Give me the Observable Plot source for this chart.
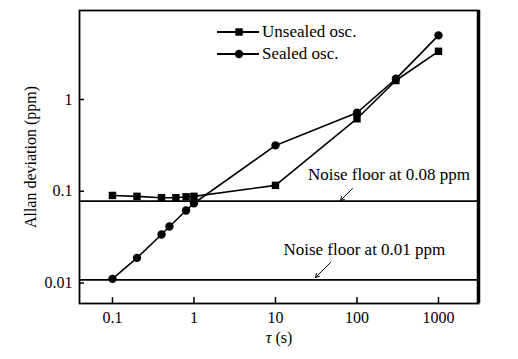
<!DOCTYPE html>
<html><head><meta charset="utf-8">
<script src="https://cdn.jsdelivr.net/npm/d3@7"></script>
<script src="https://cdn.jsdelivr.net/npm/@observablehq/plot@0.6"></script>
<style>
body{margin:0;background:#fff;}
#wrap{position:relative;width:518px;height:359px;}
.lg{position:absolute;font-family:"Liberation Serif","Times New Roman",serif;font-size:17px;line-height:17px;color:#000;white-space:nowrap;}
.lgsym{position:absolute;}
</style></head><body><div id="wrap"></div>
<script>
// Data
const tauUnsealed = [0.1, 0.2, 0.4, 0.6, 0.8, 1, 10, 100, 300, 1000];
const adevUnsealed = [0.090, 0.088, 0.085, 0.085, 0.087, 0.088, 0.116, 0.617, 1.61, 3.35];
const tauSealed = [0.1, 0.2, 0.4, 0.5, 0.8, 1, 10, 100, 300, 1000];
const adevSealed = [0.0111, 0.0188, 0.0338, 0.0413, 0.0617, 0.074, 0.316, 0.717, 1.68, 5.0];
const seriesNames = ["Unsealed osc.", "Sealed osc."];
const seriesSymbols = ["square", "circle"];
const noiseFloorValues = [0.078, 0.0108];
const noiseFloorLabels = ["Noise floor at 0.08 ppm", "Noise floor at 0.01 ppm"];
// annotation anchors (data coords): label start, arrow tail, arrow head
const noiseLabelTau = [25, 12.5];
const noiseLabelAdev = [0.152, 0.0232];
const arrowTau1 = [88, 47.3];
const arrowAdev1 = [0.107, 0.0167];
const arrowTau2 = [62.8, 31];
const arrowAdev2 = [0.0793, 0.0115];
const xTicks = [0.1, 1, 10, 100, 1000];
const yTicks = [0.01, 0.1, 1];
const xDomain = [0.0394, 3097];
const yDomain = [0.00598, 9.33];

const unsealed = tauUnsealed.map((t, i) => ({tau: t, adev: adevUnsealed[i]}));
const sealed = tauSealed.map((t, i) => ({tau: t, adev: adevSealed[i]}));
const floors = noiseFloorValues.map((v, i) => ({v, label: noiseFloorLabels[i], lx: noiseLabelTau[i], ly: noiseLabelAdev[i],
  x1: arrowTau1[i], y1: arrowAdev1[i], x2: arrowTau2[i], y2: arrowAdev2[i]}));

const font = "'Liberation Serif','Times New Roman',serif";
const plot = Plot.plot({
  width: 518, height: 359,
  marginLeft: 79, marginRight: 40, marginTop: 10, marginBottom: 56,
  style: {fontFamily: font, fontSize: "16px", color: "#000", background: "#fff", overflow: "visible"},
  x: {type: "log", domain: xDomain},
  y: {type: "log", domain: yDomain},
  marks: [
    Plot.ruleY(floors, {y: "v", stroke: "#000", strokeWidth: 1.8}),
    Plot.line(unsealed, {x: "tau", y: "adev", stroke: "#000", strokeWidth: 1.6}),
    Plot.line(sealed, {x: "tau", y: "adev", stroke: "#000", strokeWidth: 1.6}),
    Plot.dot(unsealed, {x: "tau", y: "adev", symbol: seriesSymbols[0], r: 4.2, fill: "#000", stroke: "none"}),
    Plot.dot(sealed, {x: "tau", y: "adev", symbol: seriesSymbols[1], r: 4.2, fill: "#000", stroke: "none"}),
    Plot.text(floors, {x: "lx", y: "ly", text: "label", textAnchor: "start", fontSize: 17, fill: "#000"}),
    Plot.arrow(floors, {x1: "x1", y1: "y1", x2: "x2", y2: "y2", stroke: "#000", strokeWidth: 1, headLength: 6}),
    Plot.frame({stroke: "#000", strokeWidth: 1.8}),
    Plot.ruleX([xDomain[1]], {stroke: "#000", strokeWidth: 3.5}),
    Plot.axisX(xTicks, {tickSize: -6, tickPadding: 14, strokeWidth: 1.5, tickFormat: d => String(d),
      label: "τ (s)", labelAnchor: "center", labelOffset: 39, labelArrow: "none"}),
    Plot.axisY(yTicks, {tickSize: -5, tickPadding: 12, strokeWidth: 1.5, tickFormat: d => String(d),
      label: "Allan deviation (ppm)", labelAnchor: "center", labelOffset: 55, labelArrow: "none"})
  ]
});
const wrap = document.getElementById("wrap");
wrap.appendChild(plot);

// italic tau in x label
d3.select(plot).selectAll("text").each(function() {
  if (this.textContent.trim() === "τ (s)") {
    this.textContent = "";
    const s = d3.select(this);
    s.append("tspan").attr("font-style", "italic").text("τ");
    s.append("tspan").text(" (s)");
  }
});

// legend overlay
const legendTops = [24, 46];
seriesNames.forEach((name, i) => {
  const cy = legendTops[i] + 8;
  const svg = d3.select(wrap).append("svg").attr("class", "lgsym")
    .attr("width", 44).attr("height", 16)
    .style("left", "216px").style("top", (cy - 8) + "px");
  svg.append("line").attr("x1", 1).attr("x2", 43).attr("y1", 8).attr("y2", 8).attr("stroke", "#000").attr("stroke-width", 1.8);
  svg.append("path").attr("transform", "translate(23,8)")
    .attr("d", d3.symbol(seriesSymbols[i] === "square" ? d3.symbolSquare : d3.symbolCircle, Math.PI * 4.2 * 4.2)())
    .attr("fill", "#000");
  d3.select(wrap).append("div").attr("class", "lg").style("left", "262px").style("top", (cy - 9) + "px").text(name);
});
</script>
</body></html>
